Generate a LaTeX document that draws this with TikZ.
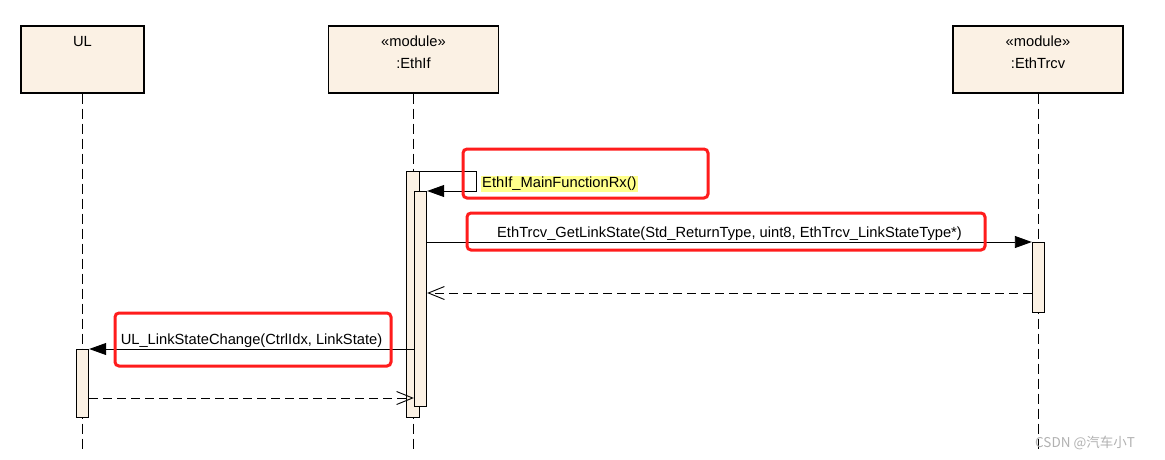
\documentclass[tikz,border=0pt]{standalone}
\usepackage{fontspec}
\setmainfont{Liberation Sans}
\newfontfamily\cjk{Noto Sans CJK SC}
\usetikzlibrary{arrows.meta,positioning}
\definecolor{lifefill}{RGB}{251,241,228}
\definecolor{notered}{RGB}{255,28,28}
\definecolor{hiyellow}{RGB}{255,255,140}
\tikzset{x=1pt,y=-1pt,
  head/.style={draw,line width=1.2pt,fill=lifefill,minimum height=67pt,inner sep=0pt},
  lifeline/.style={line width=0.9pt,dash pattern=on 10pt off 5pt},
  act/.style={draw,line width=0.9pt,fill=lifefill,minimum width=12.5pt,inner sep=0pt,anchor=north},
  call/.style={line width=0.9pt,-{Triangle[length=17pt,width=12pt]}},
  reply/.style={line width=0.9pt,dash pattern=on 9pt off 5pt,-{Straight Barb[length=16pt,width=13pt,line width=0.9pt]}},
  notebox/.style={draw=notered,line width=3pt,rounded corners=4pt},
  msg/.style={inner sep=1.5pt}}

\begin{document}
\begin{tikzpicture}[font=\fontsize{14.7}{17}\selectfont]
    \fill[white] (0,0) rectangle (1165,459);
    \useasboundingbox (0,0) rectangle (1165,459);
    % lifeline heads
    \node[head,minimum width=123pt] (ul) at (82.5,59.5) {};
    \node[anchor=base] (ul-name) at (82.5,46) {UL};
    \node[head,minimum width=170pt] (ethif) at (413.5,59.5) {};
    \node[anchor=base] (ethif-st) at (413.5,46) {\guillemotleft module\guillemotright};
    \node[anchor=base] (ethif-name) at (413.5,68) {:EthIf};
    \node[head,minimum width=170pt] (trcv) at (1038,59.5) {};
    \node[anchor=base] (trcv-st) at (1038,46) {\guillemotleft module\guillemotright};
    \node[anchor=base] (trcv-name) at (1038,68) {:EthTrcv};
    \coordinate (bottom) at (0,449);
    \draw[lifeline] (ul.south) -- (ul.south |- bottom);
    \draw[lifeline] (ethif.south) -- (ethif.south |- bottom);
    \draw[lifeline] (trcv.south) -- (trcv.south |- bottom);
    % activations
    \node[act,minimum height=246pt] (if-act1) at (413,171) {};
    \node[act,minimum height=215pt] (if-act2) at (420.5,191) {};
    \node[act,minimum height=70pt] (trcv-act) at (1038.5,242) {};
    \node[act,minimum height=68pt] (ul-act) at (82.5,349) {};
    % messages
    \draw[call] (if-act1.north east) -- ++(57,0) |- (if-act2.north east);
    \node[anchor=west,fill=hiyellow,inner sep=1pt] (rx-lbl) at (481,184) {EthIf\_MainFunctionRx()};
    \draw[call] (if-act2.east |- trcv-act.north) -- node[above,msg] (get-lbl)
        {EthTrcv\_GetLinkState(Std\_ReturnType, uint8, EthTrcv\_LinkStateType*)} (trcv-act.north west);
    \coordinate (trcv-ret) at (trcv-act.west |- 0,293);
    \draw[reply] (trcv-ret) -- (if-act2.east |- trcv-ret);
    \draw[call] (if-act2.west |- ul-act.north) -- node[above,msg] (chg-lbl)
        {UL\_LinkStateChange(CtrlIdx, LinkState)} (ul-act.north east);
    \coordinate (ul-ret) at (ul-act.east |- 0,398);
    \draw[reply] (ul-ret) -- (if-act2.west |- ul-ret);
    % red marks
    \draw[notebox] (463,149) rectangle (708,198);
    \draw[notebox] (467,213) rectangle (985,250);
    \draw[notebox] (115,313) rectangle (391,366);
    \node[anchor=base west,text=gray!60,font=\cjk\fontsize{13.5}{16}\selectfont,inner sep=0pt] (wm) at (1035,447) {CSDN @汽车小T};
\end{tikzpicture}
\end{document}
